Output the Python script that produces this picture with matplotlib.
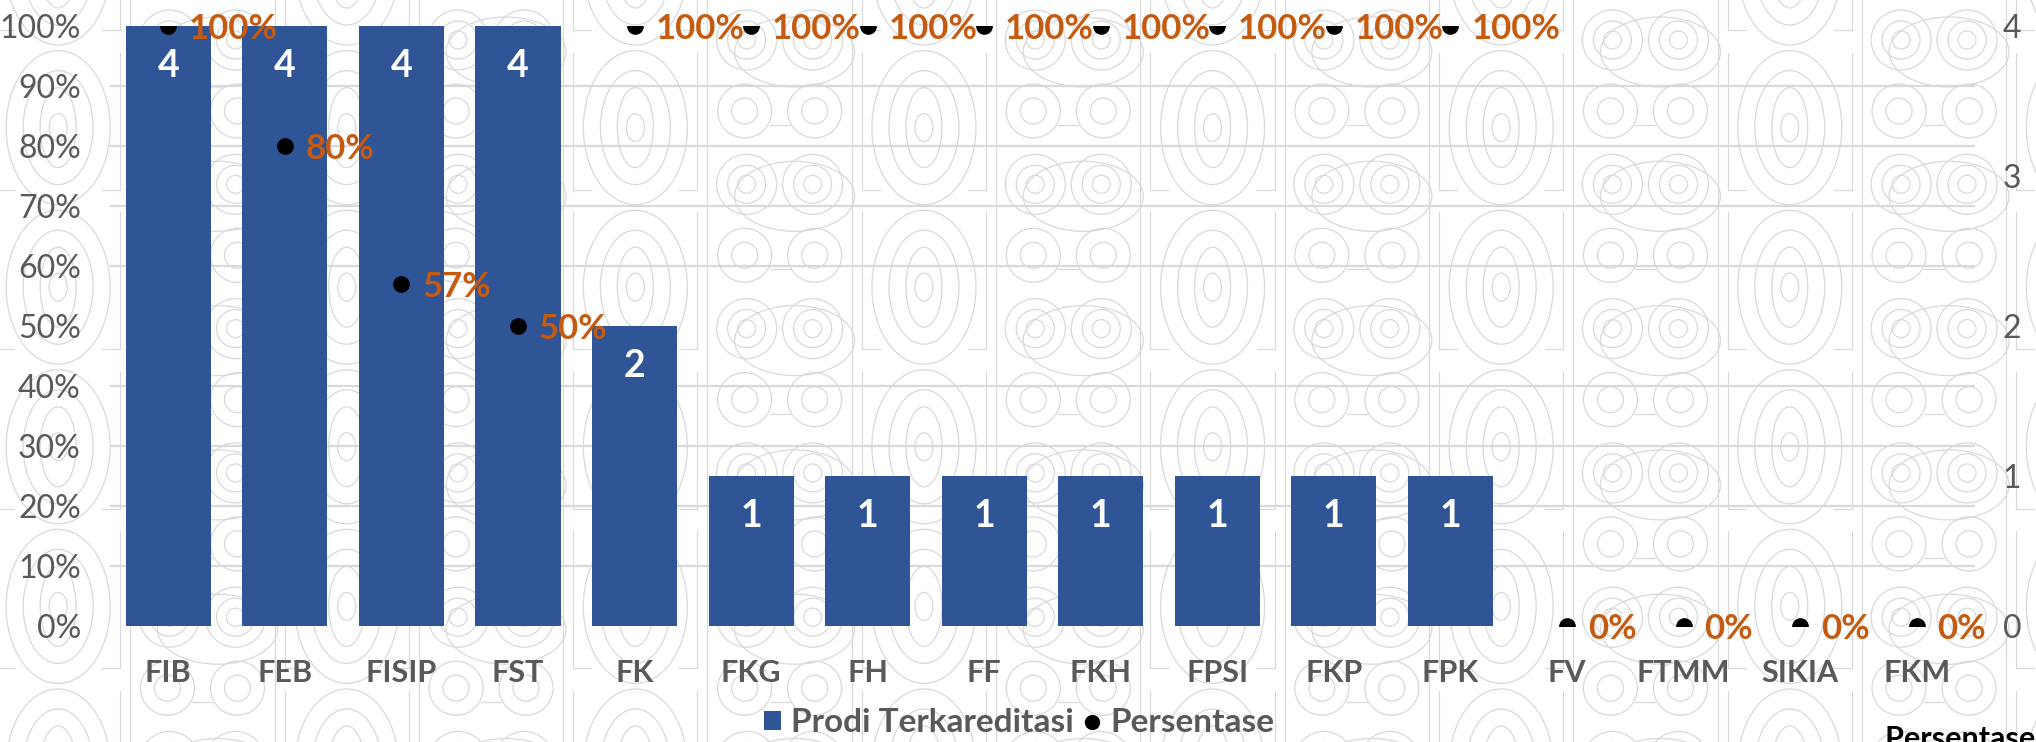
import numpy as np
import matplotlib
matplotlib.use("Agg")
import matplotlib.pyplot as plt
from matplotlib.patches import Ellipse, Circle, Patch
from matplotlib.lines import Line2D

plt.rcParams['font.family'] = ['Lato', 'DejaVu Sans']

fakultas = ["FIB", "FEB", "FISIP", "FST", "FK", "FKG", "FH", "FF", "FKH",
            "FPSI", "FKP", "FPK", "FV", "FTMM", "SIKIA", "FKM"]
prodi_terakreditasi = [4, 4, 4, 4, 2, 1, 1, 1, 1, 1, 1, 1, 0, 0, 0, 0]
persentase = [100, 80, 57, 50, 100, 100, 100, 100, 100, 100, 100, 100, 0, 0, 0, 0]

BLUE = '#2F5597'
ORANGE = '#C55A11'
GREY = '#595959'
LINE = '#D9D9D9'

W, H = 2036, 742
fig = plt.figure(figsize=(W / 100, H / 100), dpi=100)
fig.patch.set_facecolor('white')

# background watermark pattern (pixel coords)
bg = fig.add_axes([0, 0, 1, 1], zorder=-5)
bg.set_xlim(0, W)
bg.set_ylim(H, 0)
bg.axis('off')
step = 144.3
x0 = 1429 - step * 10
for k in range(16):
    left = x0 + k * step
    bg.plot([left, left], [0, H], color=LINE, lw=0.9)
    cx = left + step / 2
    if k % 2 == 0:
        # tall concentric ellipses
        for cy in np.arange(-32, H + 160, 159.6):
            for a, b in [(52, 77), (35, 57), (18, 40), (9, 14)]:
                bg.add_patch(Ellipse((cx, cy), 2 * a, 2 * b, fill=False, ec=LINE, lw=0.9))
            bg.plot([left + 10, left + 10, left + 28], [cy - 75, cy + 62, cy + 62], color=LINE, lw=0.9)
            bg.plot([left + step - 10, left + step - 10, left + step - 28], [cy - 75, cy + 62, cy + 62], color=LINE, lw=0.9)
    else:
        for cy in np.arange(40 - step, H + step, step):
            for dx in (-33, 33):
                for r in (30, 19, 9):
                    bg.add_patch(Circle((cx + dx, cy), r, fill=False, ec=LINE, lw=0.9))
            cy2 = cy + 71
            for dx in (-35, 35):
                for r in (27, 13):
                    bg.add_patch(Circle((cx + dx, cy2), r, fill=False, ec=LINE, lw=0.9))
            bg.plot([cx - 10, cx + 10], [cy2 + 14, cy2 + 14], color=LINE, lw=0.9)
            bg.add_patch(Ellipse((cx + 15, cy + 12), 120, 70, fill=False, ec=LINE, lw=0.9))

rect = [110 / W, (H - 626) / H, 1865 / W, 600 / H]
ax = fig.add_axes(rect)
ax2 = ax.twinx()
ax.set_zorder(ax2.get_zorder() + 1)
ax.patch.set_visible(False)
ax2.patch.set_visible(False)

x = np.arange(len(fakultas))

# bars on the count axis (right)
bars = ax2.bar(x, prodi_terakreditasi, width=0.73, color=BLUE, zorder=2)
for xi, v in zip(x, prodi_terakreditasi):
    if v > 0:
        ax2.annotate(str(v), (xi, v), xytext=(0, -29), textcoords='offset points',
                     ha='center', va='center', color='white', fontsize=27,
                     fontweight='bold', zorder=3)
ax2.set_ylim(0, 4)
ax2.set_yticks([0, 1, 2, 3, 4])
ax2.set_yticks(np.arange(0, 4.01, 0.4), minor=True)
ax2.set_axisbelow(True)
ax2.grid(which='minor', axis='y', color=LINE, lw=1.6)
ax2.tick_params(axis='y', which='both', length=0, pad=20, labelsize=23, labelcolor=GREY)

# percentage dots on the left axis
ax.plot(x, persentase, 'o', color='black', ms=11, zorder=5)
for xi, p in zip(x, persentase):
    ax.annotate(f"{p}%", (xi, p), xytext=(15, -2), textcoords='offset points',
                ha='left', va='center', color=ORANGE, fontsize=25, fontweight='bold')
ax.set_ylim(0, 100)
ax.set_yticks(np.arange(0, 101, 10))
ax.set_yticklabels([f"{v}%" for v in range(0, 101, 10)])
ax.tick_params(axis='y', length=0, pad=21, labelsize=23, labelcolor=GREY)
ax.set_xlim(-0.5, len(fakultas) - 0.5)
ax.set_xticks(x)
ax.set_xticklabels(fakultas, fontweight='bold')
ax.tick_params(axis='x', length=0, pad=24, labelsize=22, labelcolor=GREY)
ax2.set_xlim(-0.5, len(fakultas) - 0.5)

for a in (ax, ax2):
    for s in a.spines.values():
        s.set_visible(False)

handles = [Patch(facecolor=BLUE, label='Prodi Terkareditasi'),
           Line2D([], [], marker='o', ls='none', color='black', ms=10, label='Persentase')]
leg = fig.legend(handles=handles, loc='center', bbox_to_anchor=(1019 / W, 1 - 723 / H),
                 ncol=2, frameon=False, handlelength=0.5, handleheight=0.5,
                 handletextpad=0.3, columnspacing=0.3, prop={'size': 24, 'weight': 'bold'})
for t in leg.get_texts():
    t.set_color(GREY)

fig.text(1885 / W, -0.008, "Persentase yang Terakreditasi", fontsize=22,
         fontweight='bold', color='black', ha='left', va='baseline')

fig.savefig('out.png', dpi=100)
